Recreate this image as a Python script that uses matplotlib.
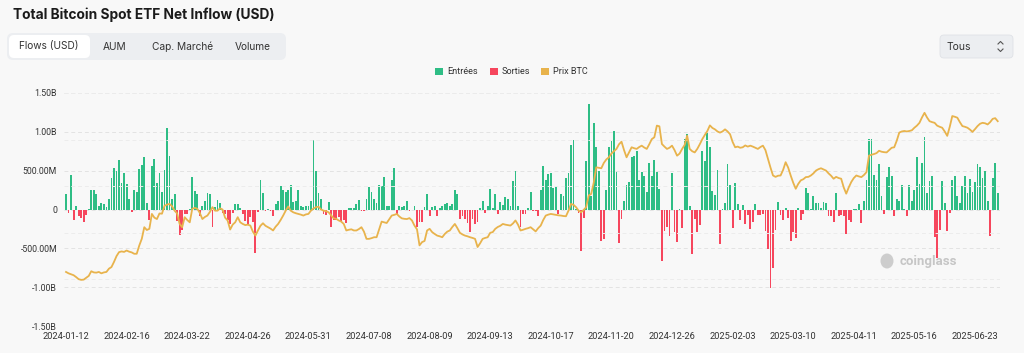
import matplotlib
matplotlib.use('Agg')
import matplotlib.pyplot as plt
from matplotlib.patches import FancyBboxPatch, Rectangle, Ellipse
from matplotlib.lines import Line2D
from matplotlib.transforms import IdentityTransform
import numpy as np
import pandas as pd

# trading days (NYSE calendar)
holidays = ['2024-01-15', '2024-02-19', '2024-03-29', '2024-05-27', '2024-06-19',
            '2024-07-04', '2024-09-02', '2024-11-28', '2024-12-25', '2025-01-01',
            '2025-01-09', '2025-01-20', '2025-02-17', '2025-04-18', '2025-05-26',
            '2025-06-19', '2025-07-04']
dates = pd.bdate_range('2024-01-12', '2025-07-07', freq='C', holidays=holidays)

# daily net flows, millions USD
flows = [
    200, -50, 450, -130, 40, -85, -105, -160, -75, 10,
    255, 245, 200, 40, 80, 70, 30, 140, 400, 540,
    490, 635, 335, 475, 330, 135, -35, 255, 230, 520,
    575, 675, 90, -140, 560, 650, 335, 475, 220, 505,
    1045, 685, 135, 200, -150, -325, -260, -55, -55, 5,
    420, 240, 195, -85, 40, 110, 215, 205, -220, 30,
    125, 90, -40, -55, -130, -185, -50, 65, 65, 15,
    -55, -150, -200, -100, -160, -565, -30, 375, 215, -20,
    10, -15, -85, 65, 110, 300, 255, 225, 255, 310,
    95, 110, 245, 45, 30, 50, 50, 105, 890, 490,
    215, 130, -55, -75, 100, -220, -130, -140, -100, -150,
    -140, -175, 25, 25, 15, 70, 125, -15, -15, 140,
    295, 225, 140, 85, 310, 300, 420, 45, 40, 385,
    530, -70, 45, 35, 50, 115, -15, 0, 45, -230,
    -160, -160, 35, 200, -85, 30, 40, -80, 15, 40,
    65, 85, 40, 70, 250, 200, -125, -80, -120, -170,
    -290, -120, -185, -160, 25, 110, -45, 50, 265, 15,
    195, -55, 95, 60, 160, 130, 45, 365, 490, 40,
    -230, -60, -60, 20, 230, -15, -25, -85, 255, 555,
    375, 455, 475, 275, 295, -60, 200, 180, 400, 470,
    825, 900, 10, -45, -540, -110, 620, 1360, 180, 1120,
    805, 495, -405, -380, 255, 810, 880, 1005, 480, -435,
    -120, 105, 320, 350, 680, 685, 750, 375, 480, 425,
    220, 595, 425, 640, 480, 265, -665, -280, -230, -335,
    475, -290, -420, 5, -240, 910, 970, 50, -570, -120,
    -285, -205, 755, 625, 980, 800, 240, 190, 515, -450,
    10, 85, 585, 320, -235, 340, 65, -140, 60, -185,
    -65, -250, -155, 70, -65, -65, -55, -275, -515, -1015,
    -755, -270, 95, -70, -140, 20, -110, -410, -285, -370,
    15, -135, -60, 275, 215, 10, 175, 85, 80, 25,
    95, 85, -85, -85, -155, 215, -85, -70, -85, -320,
    -140, -155, 2, 2, 75, -170, 105, 380, 910, 910,
    440, 375, 590, 170, -55, 420, 545, 425, -85, 140,
    110, 320, 5, -85, 320, 110, 255, 670, 330, 605,
    935, 215, 370, 435, -350, -620, -270, 370, 85, -280,
    -45, 385, 435, 170, 85, 300, 435, 215, 390, 230,
    350, 585, 545, 410, 490, 105, -345, 410, 600, 215,
]

# BTC price, thousands USD
btc = [
    43.2, 42.6, 42.2, 41.8, 41.0, 40.1, 39.8, 39.9, 40.7, 41.5,
    43.5, 43.0, 42.9, 43.2, 42.6, 43.0, 43.2, 44.6, 45.3, 47.5,
    50.0, 51.7, 52.0, 51.8, 52.4, 51.9, 51.6, 51.0, 51.0, 54.5,
    57.4, 62.4, 61.2, 61.7, 68.1, 66.5, 65.9, 68.3, 68.2, 71.6,
    72.1, 72.4, 71.4, 69.5, 68.3, 63.8, 62.4, 66.7, 65.5, 64.5,
    70.3, 70.7, 70.3, 68.5, 65.9, 66.8, 67.4, 69.0, 71.0, 69.5,
    69.5, 70.5, 70.0, 66.5, 65.3, 61.4, 63.5, 64.5, 66.7, 64.5,
    63.8, 63.3, 63.5, 63.1, 60.5, 58.8, 61.0, 63.0, 64.1, 63.0,
    62.4, 61.8, 61.0, 62.6, 63.8, 65.5, 67.4, 69.5, 71.3, 69.5,
    68.8, 68.4, 68.1, 67.8, 67.4, 67.9, 68.1, 69.5, 70.4, 71.0,
    71.2, 70.0, 69.5, 69.3, 68.8, 67.5, 66.2, 66.0, 65.3, 64.8,
    63.8, 61.0, 61.3, 61.5, 61.0, 61.0, 61.6, 62.4, 60.5, 57.4,
    57.4, 57.7, 58.1, 58.1, 61.5, 64.8, 64.5, 64.2, 65.8, 67.4,
    67.7, 68.1, 67.0, 66.2, 66.0, 65.9, 66.3, 65.3, 63.1, 61.5,
    54.6, 56.0, 56.5, 61.0, 61.7, 60.3, 59.5, 58.8, 58.5, 58.1,
    59.5, 60.5, 61.0, 62.5, 63.8, 62.0, 60.0, 59.3, 58.8, 58.5,
    58.1, 57.8, 57.4, 53.9, 55.5, 57.4, 57.8, 58.1, 60.0, 60.3,
    61.7, 62.5, 63.0, 63.8, 63.5, 63.3, 63.1, 64.0, 65.3, 63.5,
    61.0, 61.3, 61.7, 62.0, 62.4, 61.5, 60.6, 62.0, 63.1, 65.5,
    67.4, 67.8, 68.1, 67.9, 67.7, 67.5, 67.4, 67.2, 67.1, 69.5,
    72.4, 72.0, 71.0, 69.5, 68.8, 69.8, 71.0, 76.0, 76.7, 81.5,
    88.1, 87.9, 87.7, 90.0, 91.5, 92.4, 94.0, 95.0, 96.0, 98.0,
    99.1, 95.5, 92.4, 94.5, 96.7, 96.3, 96.0, 96.8, 97.4, 96.6,
    96.0, 98.0, 100.2, 101.0, 106.0, 105.7, 98.1, 97.0, 96.0, 96.5,
    97.4, 95.5, 93.1, 94.0, 96.0, 97.7, 101.7, 96.0, 95.0, 94.5,
    96.0, 98.0, 100.2, 102.0, 103.7, 106.1, 105.0, 104.4, 103.5, 103.0,
    103.5, 104.4, 103.5, 102.3, 99.0, 96.7, 97.0, 96.5, 96.7, 97.5,
    97.0, 97.4, 97.0, 96.5, 96.0, 96.8, 97.4, 95.5, 91.7, 88.0,
    84.6, 84.0, 84.5, 84.6, 87.0, 90.3, 88.0, 84.6, 81.5, 78.9,
    81.0, 82.5, 83.0, 83.9, 84.0, 84.6, 85.5, 86.7, 87.3, 87.7,
    87.2, 86.7, 85.5, 84.5, 83.2, 84.0, 83.5, 83.2, 79.5, 76.8,
    79.5, 81.8, 83.5, 84.6, 84.2, 83.9, 84.8, 86.0, 93.1, 93.5,
    93.8, 94.2, 95.2, 94.8, 94.6, 94.5, 95.5, 96.5, 96.7, 99.5,
    103.0, 103.5, 103.7, 103.5, 103.7, 104.0, 105.1, 106.0, 107.2, 109.5,
    111.5, 109.5, 107.9, 107.5, 107.2, 106.0, 105.5, 105.1, 103.5, 101.6,
    105.5, 110.1, 109.8, 109.4, 107.5, 105.8, 105.5, 105.1, 104.3, 103.3,
    104.5, 105.8, 106.8, 107.2, 107.0, 106.5, 107.5, 108.9, 109.2, 107.9,
]

y_ticks = [1.5e9, 1e9, 5e8, 0, -5e8, -1e9, -1.5e9]
y_labels = ['1.50B', '1.00B', '500.00M', '0', '-500.00M', '-1.00B', '-1.50B']
tabs = ['Flows (USD)', 'AUM', 'Cap. Marché', 'Volume']
tab_x = [49, 115, 183, 253]

GREEN, RED, GOLD = '#2ebd85', '#f6465d', '#e8b34c'
BG = '#f8f8f8'
W, H = 1024, 353
plt.rcParams['font.family'] = ['Roboto', 'DejaVu Sans']

fig = plt.figure(figsize=(W / 100, H / 100), dpi=100)
fig.patch.set_facecolor(BG)
pix = IdentityTransform()

ax = fig.add_axes([64 / W, 1 - 326 / H, 936 / W, 233 / H])
ax.set_facecolor(BG)
x = np.arange(len(flows))
vals = np.array(flows) * 1e6
ax.bar(x, vals, width=0.72, color=[GREEN if v >= 0 else RED for v in vals], zorder=2)
ax.set_xlim(-0.8, 369.9)
ax.set_ylim(-1.5e9, 1.5e9)
ax.set_yticks(y_ticks)
ax.set_yticklabels(y_labels)
ax.set_xticks(x[::24])
ax.set_xticklabels([d.strftime('%Y-%m-%d') for d in dates[:len(x)][::24]])
ax.tick_params(length=0, labelsize=6.7, colors='#333333')
ax.tick_params(axis='y', pad=5, labelsize=6.3)
ax.tick_params(axis='x', pad=4)
ax.grid(axis='y', ls=(0, (4, 3)), color='#e3e3e3', lw=0.7, zorder=0)
for s in ax.spines.values():
    s.set_visible(False)

ax2 = ax.twinx()
ax2.plot(x, np.array(btc) * 1000, color=GOLD, lw=1.3)
ax2.set_ylim(20000, 120000)
ax2.set_yticks(np.arange(20000, 120001, 20000))
ax2.tick_params(length=0, labelright=False)
ax2.grid(axis='y', ls=(0, (4, 3)), color='#ececec', lw=0.7)
for s in ax2.spines.values():
    s.set_visible(False)

# title
fig.text(13 / W, 1 - 15 / H, 'Total Bitcoin Spot ETF Net Inflow (USD)', family=['Inter', 'DejaVu Sans'],
         fontsize=9.9, fontweight='bold', color='#1b1b1b', va='center', ha='left')

# tab bar
fig.patches.append(FancyBboxPatch((7, H - 60), 279, 27, boxstyle='round,pad=0,rounding_size=6',
                                  transform=pix, fc='#eceef1', ec='none'))
fig.patches.append(FancyBboxPatch((9, H - 58), 81, 23, boxstyle='round,pad=0,rounding_size=5',
                                  transform=pix, fc='white', ec='none'))
for t, tx in zip(tabs, tab_x):
    fig.text(tx / W, 1 - 46.5 / H, t, family=['Inter', 'DejaVu Sans'], fontsize=7.3,
             color='#333333', ha='center', va='center')

# dropdown
fig.patches.append(FancyBboxPatch((940, H - 58), 73, 23, boxstyle='round,pad=0,rounding_size=4',
                                  transform=pix, fc='#eceef1', ec='#dfe2e6', lw=0.6))
fig.text(947 / W, 1 - 46.5 / H, 'Tous', family=['Inter', 'DejaVu Sans'], fontsize=7.5,
         color='#333333', ha='left', va='center')
fig.lines.append(Line2D([998, 1000.5, 1003], [H - 44, H - 41.5, H - 44], transform=pix,
                        color='#555555', lw=0.8))
fig.lines.append(Line2D([998, 1000.5, 1003], [H - 49, H - 51.5, H - 49], transform=pix,
                        color='#555555', lw=0.8))

# legend
for lx, c, lab in [(435, GREEN, 'Entrées'), (490, RED, 'Sorties'), (541, GOLD, 'Prix BTC')]:
    fig.patches.append(Rectangle((lx, H - 75), 7.5, 7.5, transform=pix, fc=c, ec='none'))
    fig.text((lx + 12) / W, 1 - 71.3 / H, lab, fontsize=6.6, color='#333333', ha='left', va='center')

# watermark
fig.patches.append(Ellipse((887, H - 261), 13, 15, transform=pix, fc='#c9c9c9', ec='none', alpha=0.9))
fig.text(900 / W, 1 - 262 / H, 'coinglass', fontsize=9.5, fontweight='bold', color='#c6c6c6',
         ha='left', va='center')

fig.savefig('out.png', dpi=100, facecolor=BG)
